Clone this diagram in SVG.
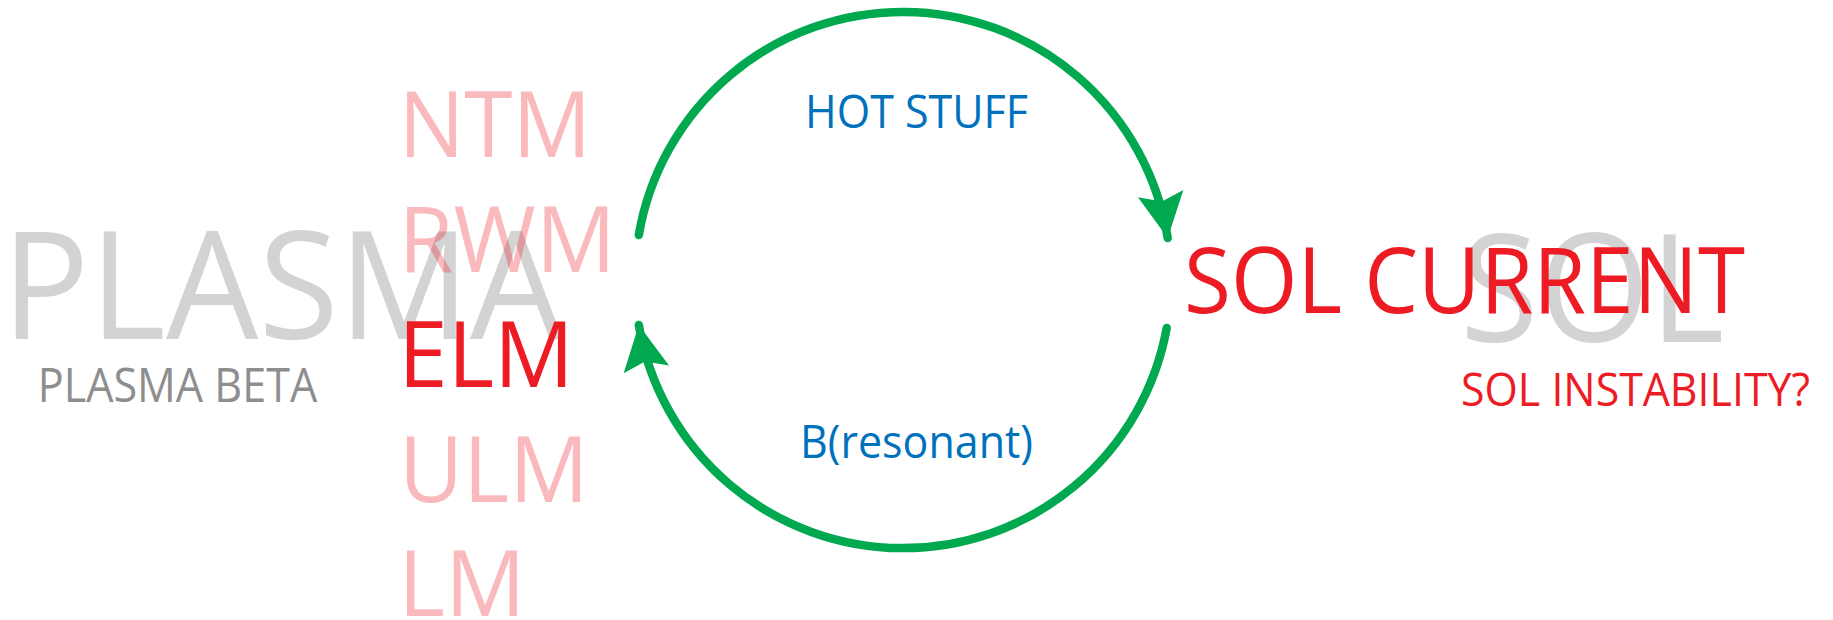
<svg xmlns="http://www.w3.org/2000/svg" width="1833" height="620" viewBox="0 0 1833 620">
<style>
text { font-family: "Open Sans", "Liberation Sans", sans-serif; }
.big { font-size: 150px; fill: #d3d3d3; }
.mode { font-size: 91px; fill: #ed1c24; fill-opacity: 0.3; }
.hot { font-size: 91px; fill: #ed1c24; }
.beta { font-size: 47.6px; fill: #8e8e8e; }
.inst { font-size: 46px; fill: #ed1c24; }
.lbl { font-size: 45px; fill: #0071bc; }
.arc { fill: none; stroke: #00a94f; stroke-width: 8.5; stroke-linecap: round; marker-end: url(#ah); }
</style>
<defs>
<marker id="ah" markerUnits="userSpaceOnUse" markerWidth="60" markerHeight="60" viewBox="-50 -30 60 60" refX="0" refY="0" orient="auto" overflow="visible">
<path d="M0,0 L-45,23 L-37,0 L-45,-23 Z" fill="#00a94f"/>
</marker>
</defs>
<rect width="1833" height="620" fill="#ffffff"/>

<g id="plasma"><text class="big" x="1.6" y="339" textLength="561" lengthAdjust="spacingAndGlyphs">PLASMA</text></g>
<g id="plasma-beta"><text class="beta" x="37.7" y="402" textLength="279.5" lengthAdjust="spacingAndGlyphs">PLASMA BETA</text></g>
<g id="ntm"><text class="mode" x="398.4" y="157" textLength="193" lengthAdjust="spacingAndGlyphs">NTM</text></g>
<g id="rwm"><text class="mode" x="398.4" y="272" textLength="217.5" lengthAdjust="spacingAndGlyphs">RWM</text></g>
<g id="elm"><text class="hot" x="398.3" y="387" textLength="175.6" lengthAdjust="spacingAndGlyphs">ELM</text></g>
<g id="ulm"><text class="mode" x="399" y="502" textLength="189.6" lengthAdjust="spacingAndGlyphs">ULM</text></g>
<g id="lm"><text class="mode" x="398.3" y="616" textLength="127.5" lengthAdjust="spacingAndGlyphs">LM</text></g>

<g id="sol"><text class="big" x="1460" y="342" textLength="264.6" lengthAdjust="spacingAndGlyphs">SOL</text></g>
<g id="sol-current"><text class="hot" x="1184" y="312.5" textLength="561" lengthAdjust="spacingAndGlyphs">SOL CURRENT</text></g>
<g id="sol-instability"><text class="inst" x="1461" y="406" textLength="349" lengthAdjust="spacingAndGlyphs">SOL INSTABILITY?</text></g>

<g id="connectors">
<path class="arc" d="M 638.8 235 A 268 268 0 0 1 1167.7 238"/>
<path class="arc" d="M 1166.7 328 A 268 268 0 0 1 638.8 325"/>
<text class="lbl" x="805" y="128" textLength="223" lengthAdjust="spacingAndGlyphs">HOT STUFF</text>
<text class="lbl" x="800" y="458" font-size="44" textLength="233" lengthAdjust="spacingAndGlyphs">B(resonant)</text>
</g>
</svg>
